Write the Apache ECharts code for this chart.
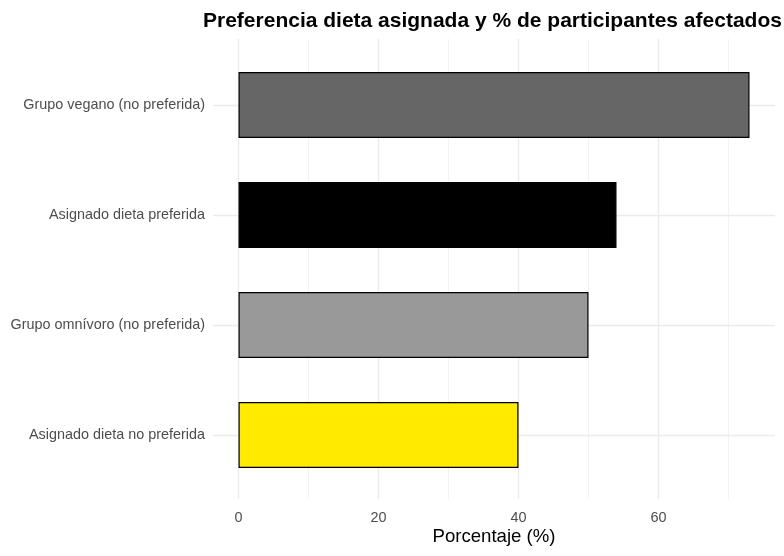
<!DOCTYPE html>
<html>
<head>
<meta charset="utf-8">
<script src="https://cdn.jsdelivr.net/npm/echarts@6/dist/echarts.min.js"></script>
<style>
  html, body { margin: 0; padding: 0; background: #ffffff; }
  #chart { width: 784px; height: 556px; }
</style>
</head>
<body>
<div id="chart"></div>
<script>
// ---- data ----
const categories = [
  'Grupo vegano (no preferida)',
  'Asignado dieta preferida',
  'Grupo omnívoro (no preferida)',
  'Asignado dieta no preferida'
];
const values = [73, 54, 50, 40];
const barColors = ['#666666', '#000000', '#999999', '#FFEA00'];
const xTicks = [0, 20, 40, 60];

const titleText = 'Preferencia dieta asignada y % de participantes afectados';
const xTitle = 'Porcentaje (%)';

// ggplot-like expansion of the value range
const dataMax = Math.max(...values);
const expand = dataMax * 0.05;
const xMinB = 0 - expand;
const xMaxB = dataMax + expand;

const FONT = "'Liberation Sans', Arial, sans-serif";

const chart = echarts.init(document.getElementById('chart'), null, { renderer: 'canvas' });

const option = {
  backgroundColor: '#ffffff',
  animation: false,
  title: {
    text: titleText,
    left: 203,
    top: 11,
    padding: 0,
    textStyle: { fontFamily: FONT, fontSize: 21, fontWeight: 'bold', color: '#000000' }
  },
  grid: [
    // grid 0: vertical gridlines + tick labels (0 at x=238.5, 7px per unit, 0..80)
    { left: 238.5, width: 560, top: 39, bottom: 57, outerBoundsMode: 'none', containLabel: false },
    // grid 1: bars
    { left: 212.95, right: 8.95, top: 50, bottom: 66, outerBoundsMode: 'none', containLabel: false }
  ],
  xAxis: [
    {
      gridIndex: 0,
      type: 'value',
      min: 0,
      max: 80,
      interval: 20,
      axisLine: { show: false },
      axisTick: { show: false },
      axisLabel: {
        color: '#4D4D4D',
        fontFamily: FONT,
        fontSize: 14.4,
        margin: 12,
        formatter: v => (xTicks.indexOf(v) >= 0 ? String(v) : '')
      },
      splitLine: { show: true, lineStyle: { color: '#EBEBEB', width: 1.4 } },
      minorTick: { show: false, splitNumber: 2 },
      minorSplitLine: { show: true, lineStyle: { color: '#EFEFEF', width: 0.8 } }
    },
    {
      gridIndex: 1,
      type: 'value',
      min: xMinB,
      max: xMaxB,
      axisLine: { show: false },
      axisTick: { show: false },
      axisLabel: { show: false },
      splitLine: { show: false },
      name: xTitle,
      nameLocation: 'middle',
      nameGap: 37,
      nameTextStyle: { color: '#000000', fontFamily: FONT, fontSize: 18.6 }
    }
  ],
  yAxis: [
    {
      gridIndex: 0,
      type: 'value',
      min: 0,
      max: 1,
      show: false
    },
    {
      gridIndex: 1,
      type: 'category',
      data: categories,
      inverse: true,
      axisLine: { show: false },
      axisTick: { show: false },
      splitLine: { show: false },
      axisLabel: {
        color: '#4D4D4D',
        fontFamily: FONT,
        fontSize: 14.4,
        margin: 8
      }
    }
  ],
  series: [
    {
      type: 'bar',
      xAxisIndex: 1,
      yAxisIndex: 1,
      barWidth: '60%',
      z: 3,
      data: values.map((v, i) => ({
        value: v,
        itemStyle: { color: barColors[i], borderColor: '#000000', borderWidth: 1.2 }
      })),
      markLine: {
        silent: true,
        symbol: ['none', 'none'],
        z: 1,
        label: { show: false },
        lineStyle: { color: '#EBEBEB', width: 1.4, type: 'solid' },
        data: categories.map(c => [
          { coord: [xMinB, c] },
          { coord: [xMaxB, c] }
        ])
      }
    }
  ]
};

chart.setOption(option);
</script>
</body>
</html>
